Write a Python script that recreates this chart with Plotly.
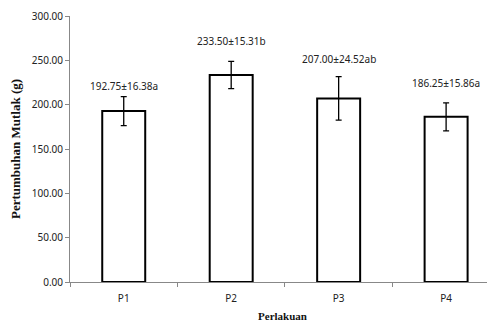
import plotly.graph_objects as go

categories = ["P1", "P2", "P3", "P4"]
means = [192.75, 233.50, 207.00, 186.25]
sds = [16.38, 15.31, 24.52, 15.86]
letters = ["a", "b", "ab", "a"]
y_ticks = [0, 50, 100, 150, 200, 250, 300]

fig = go.Figure()
fig.add_trace(go.Bar(
    x=categories, y=means,
    marker=dict(color="white", line=dict(color="black", width=2)),
    width=0.4,
    error_y=dict(type="data", array=sds, visible=True, color="black",
                 thickness=1.3, width=3),
))

label_shift = [8, 17, 15, 17]
for c, m, s, l, sh in zip(categories, means, sds, letters, label_shift):
    fig.add_annotation(x=c, y=m + s, text=f"{m:.2f}±{s:.2f}{l}",
                       showarrow=False, yanchor="bottom", yshift=sh - 6,
                       font=dict(family="Noto Sans", size=10, color="#222"))

fig.update_layout(
    width=487, height=319,
    margin=dict(l=62, r=0, t=5, b=45),
    plot_bgcolor="white", paper_bgcolor="white",
    showlegend=False,
    font=dict(family="Noto Sans", size=10, color="#222"),
    xaxis=dict(
        range=[-0.5, 3.455],
        showline=True, linecolor="#888", linewidth=1,
        ticks="outside", ticklen=4, tickcolor="#888", tickson="boundaries",
        ticklabelstandoff=7,
        title=dict(text="<b>Perlakuan</b>", standoff=8,
                   font=dict(family="Liberation Serif", size=11, color="#111")),
        layer="above traces",
    ),
    yaxis=dict(
        range=[0, 300], tickvals=y_ticks,
        ticktext=[f"{v:.2f}" for v in y_ticks],
        ticklabeloverflow="allow",
        showline=True, linecolor="#888", linewidth=1,
        ticks="outside", ticklen=4, tickcolor="#888",
        showgrid=False, zeroline=False,
        title=dict(text="<b>Pertumbuhan Mutlak (g)</b>", standoff=8,
                   font=dict(family="Liberation Serif", size=13, color="#111")),
    ),
)

fig.write_html("out.html")
